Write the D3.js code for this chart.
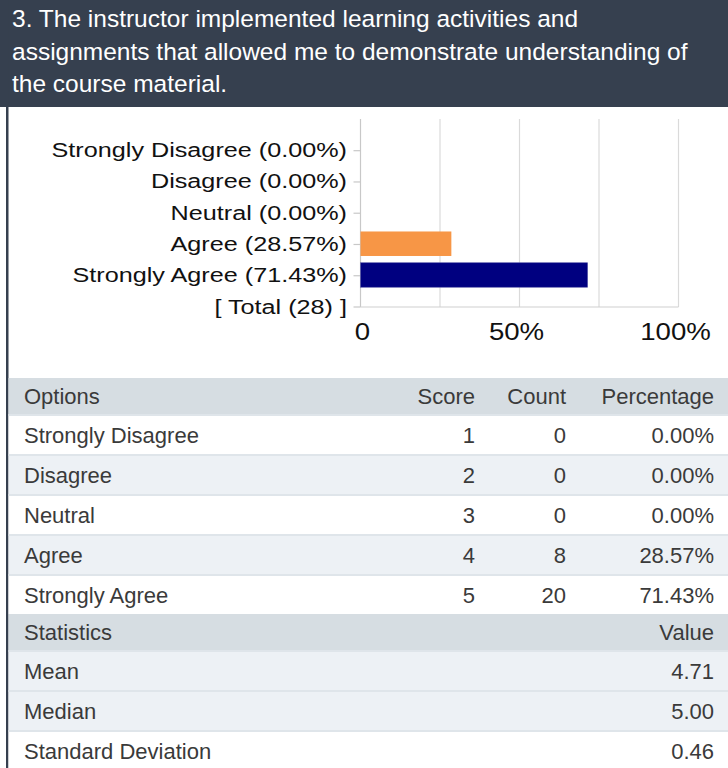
<!DOCTYPE html>
<html>
<head>
<meta charset="utf-8">
<script src="https://cdn.jsdelivr.net/npm/d3@7"></script>
<style>
    html, body { margin: 0; padding: 0; background: #fff; }
    svg { display: block; font-family: 'Liberation Sans', Arial, sans-serif; }
</style>
</head>
<body>
<svg id="plot"></svg>
<script>
'use strict';

const titleLines = [
    '3. The instructor implemented learning activities and',
    'assignments that allowed me to demonstrate understanding of',
    'the course material.'
];
const options = ['Strongly Disagree', 'Disagree', 'Neutral', 'Agree', 'Strongly Agree'];
const scores = [1, 2, 3, 4, 5];
const counts = [0, 0, 0, 8, 20];
const percentages = [0, 0, 0, 28.57, 71.43];
const totalCount = 28;
const gridTicks = [0, 25, 50, 75, 100];
const xTickLabels = [0, 50, 100];
const statNames = ['Mean', 'Median', 'Standard Deviation'];
const statValues = ['4.71', '5.00', '0.46'];

const pageWidth = 728;
const pageHeight = 768;
const slate = '#36404f';
const barColors = {'Agree': '#f79646', 'Strongly Agree': '#000080'};

const svg = d3.select('#plot')
    .attr('width', pageWidth)
    .attr('height', pageHeight);

function renderTitle() {
    svg.append('rect')
        .attr('x', 0).attr('y', 0)
        .attr('width', pageWidth).attr('height', 107)
        .attr('fill', slate);

    svg.append('rect')
        .attr('x', 6).attr('y', 0)
        .attr('width', 2.5).attr('height', pageHeight)
        .attr('fill', slate);

    svg.append('g')
        .selectAll('text')
        .data(titleLines)
        .enter()
        .append('text')
        .attr('x', 12)
        .attr('y', (d, i) => 27 + i * 32.5)
        .attr('fill', '#fff')
        .style('font-size', '24.5px')
        .text(d => d);
}

function renderChart() {
    const labels = options.map((o, i) => `${o} (${percentages[i].toFixed(2)}%)`)
        .concat([`[ Total (${totalCount}) ]`]);

    const xScale = d3.scaleLinear().domain([0, 100]).range([360.5, 678.5]);
    const yScale = d3.scalePoint().domain(labels).range([150.7, 307]);
    const gridTop = 119;
    const stretch = 'scale(1.2, 1)';

    const chart = svg.append('g').attr('id', 'chart');

    chart.append('g')
        .selectAll('line')
        .data(gridTicks)
        .enter()
        .append('line')
        .attr('x1', d => xScale(d)).attr('x2', d => xScale(d))
        .attr('y1', gridTop).attr('y2', yScale.range()[1])
        .attr('stroke', d => d === 0 ? '#c8c8c8' : '#dadada')
        .attr('stroke-width', 1.2);

    chart.append('line')
        .attr('x1', xScale(0)).attr('x2', xScale(100))
        .attr('y1', yScale.range()[1]).attr('y2', yScale.range()[1])
        .attr('stroke', '#d0d0d0')
        .attr('stroke-width', 1.2);

    chart.append('g')
        .selectAll('line')
        .data(labels)
        .enter()
        .append('line')
        .attr('x1', xScale(0) - 7).attr('x2', xScale(0))
        .attr('y1', d => yScale(d)).attr('y2', d => yScale(d))
        .attr('stroke', '#c8c8c8')
        .attr('stroke-width', 1.2);

    chart.append('g')
        .selectAll('rect')
        .data(options.map((o, i) => ({option: o, label: labels[i], pct: percentages[i]})).filter(d => d.pct > 0))
        .enter()
        .append('rect')
        .attr('x', xScale(0))
        .attr('y', d => yScale(d.label) - 13)
        .attr('width', d => xScale(d.pct) - xScale(0))
        .attr('height', 24.5)
        .attr('fill', d => barColors[d.option])
        .attr('stroke', d => d.option === 'Strongly Agree' ? '#5a5aa8' : 'none')
        .attr('stroke-width', 0.6);

    chart.append('g')
        .selectAll('text')
        .data(labels)
        .enter()
        .append('text')
        .attr('transform', d => `translate(347, ${yScale(d) + 6.5}) ${stretch}`)
        .attr('text-anchor', 'end')
        .attr('fill', '#111')
        .style('font-size', '21px')
        .text(d => d);

    chart.append('g')
        .selectAll('text')
        .data(xTickLabels)
        .enter()
        .append('text')
        .attr('transform', d => `translate(${xScale(d) - 3 + (d === 0 ? 5 : 0)}, 340) ${stretch}`)
        .attr('text-anchor', 'middle')
        .attr('fill', '#111')
        .style('font-size', '23px')
        .text(d => d === 0 ? '0' : `${d}%`);
}

function renderTable() {
    const left = 8.5;
    const headerFill = '#d6dde2';
    const lightFill = '#edf1f5';
    const textColor = '#3a3a3a';
    const columns = [{x: 475}, {x: 566}, {x: 714}];

    const rows = [
        {type: 'head', cells: ['Options', 'Score', 'Count', 'Percentage']},
        ...options.map((o, i) => ({type: 'row', shade: i % 2 === 1, cells: [o, String(scores[i]), String(counts[i]), `${percentages[i].toFixed(2)}%`]})),
        {type: 'head', cells: ['Statistics', '', '', 'Value']},
        ...statNames.map((s, i) => ({type: 'row', shade: i < statNames.length - 1, cells: [s, '', '', statValues[i]]}))
    ];

    let y = 378;
    rows.forEach(row => {
        const h = row.type === 'head' ? 36 : 40;
        const fill = row.type === 'head' ? headerFill : (row.shade ? lightFill : '#fff');
        const g = svg.append('g').attr('transform', `translate(0, ${y})`);

        g.append('rect')
            .attr('x', left).attr('y', 0)
            .attr('width', pageWidth - left).attr('height', h)
            .attr('fill', fill);

        if (row.type === 'row') {
            g.append('rect')
                .attr('x', left).attr('y', 0)
                .attr('width', pageWidth - left).attr('height', 2)
                .attr('fill', '#dfe5ea');
        }

        const baseline = row.type === 'head' ? 26 : 29;

        g.append('text')
            .attr('x', 24).attr('y', baseline)
            .attr('fill', textColor)
            .style('font-size', '22px')
            .text(row.cells[0]);

        g.selectAll('text.num')
            .data(row.cells.slice(1))
            .enter()
            .append('text')
            .attr('class', 'num')
            .attr('x', (d, i) => columns[i].x)
            .attr('y', baseline)
            .attr('text-anchor', 'end')
            .attr('fill', textColor)
            .style('font-size', '22px')
            .text(d => d);

        y += h;
    });
}

renderTitle();
renderChart();
renderTable();
</script>
</body>
</html>
